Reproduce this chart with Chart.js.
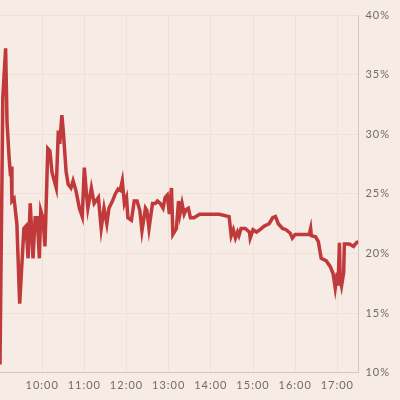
<!DOCTYPE html>
<html>
<head>
<meta charset="utf-8">
<script src="https://cdn.jsdelivr.net/npm/chart.js@4"></script>
<style>
  html, body { margin: 0; padding: 0; background: #f6ebe5; }
  #wrap { width: 400px; height: 400px; }
</style>
</head>
<body>
<div id="wrap"><canvas id="rateChart" width="400" height="400"></canvas></div>
<script>
// time of day for each reading
const times = [
    '9:00', '9:04', '9:08', '9:10', '9:13', '9:15', '9:16', '9:17', '9:20', '9:24',
    '9:28', '9:34', '9:37', '9:40', '9:43', '9:47', '9:50', '9:53', '9:56', '9:58',
    '10:01', '10:04', '10:08', '10:11', '10:14', '10:20', '10:23', '10:25', '10:28', '10:30',
    '10:34', '10:37', '10:41', '10:44', '10:48', '10:53', '10:57', '11:00', '11:03', '11:05',
    '11:10', '11:14', '11:20', '11:24', '11:28', '11:32', '11:35', '11:40', '11:44', '11:48',
    '11:51', '11:54', '11:57', '12:00', '12:02', '12:07', '12:11', '12:15', '12:19', '12:22',
    '12:27', '12:29', '12:32', '12:37', '12:41', '12:44', '12:48', '12:52', '12:55', '12:58',
    '13:01', '13:04', '13:06', '13:11', '13:14', '13:16', '13:19', '13:22', '13:25', '13:28',
    '13:31', '13:36', '13:44', '13:58', '14:12', '14:26', '14:29', '14:32', '14:35', '14:38',
    '14:40', '14:43', '14:49', '14:55', '14:56', '15:00', '15:05', '15:10', '15:16', '15:23',
    '15:28', '15:32', '15:36', '15:42', '15:47', '15:53', '15:56', '16:00', '16:13', '16:20',
    '16:22', '16:23', '16:29', '16:33', '16:37', '16:44', '16:50', '16:54', '16:57', '17:00',
    '17:01', '17:03', '17:04', '17:06', '17:09', '17:10', '17:17', '17:23', '17:27', '17:30'
];

// percentage values
const rates = [
    10.7, 33.1, 37.2, 31.0, 28.0, 26.5, 27.3, 24.4, 24.6, 22.5,
    15.8, 22.1, 22.3, 19.6, 24.2, 19.6, 23.0, 23.0, 19.6, 23.6,
    23.0, 20.6, 28.8, 28.6, 26.8, 25.5, 30.3, 29.2, 31.6, 30.3,
    26.9, 25.8, 25.5, 26.1, 25.3, 23.8, 23.1, 27.2, 25.0, 23.8,
    25.5, 24.2, 24.7, 22.1, 23.8, 22.5, 23.8, 24.4, 25.0, 25.4,
    25.3, 26.1, 24.2, 24.7, 23.0, 22.8, 24.4, 24.4, 23.6, 21.9,
    23.8, 23.6, 22.1, 24.2, 24.2, 24.4, 24.2, 23.8, 24.7, 24.9,
    23.3, 25.5, 21.6, 22.1, 24.4, 23.3, 24.2, 23.3, 23.7, 23.8,
    23.0, 23.0, 23.3, 23.3, 23.3, 23.1, 21.5, 22.0, 21.3, 21.8,
    21.5, 22.1, 22.1, 21.8, 21.3, 22.0, 21.8, 22.0, 22.3, 22.5,
    23.0, 23.1, 22.5, 22.1, 22.0, 21.7, 21.3, 21.6, 21.6, 21.6,
    22.1, 21.5, 21.4, 21.0, 19.6, 19.4, 18.9, 18.3, 17.1, 18.4,
    17.3, 20.9, 17.9, 17.3, 18.4, 20.8, 20.8, 20.6, 20.9, 21.0
];

// axis labels
const hourLabels = ['10:00', '11:00', '12:00', '13:00', '14:00', '15:00', '16:00', '17:00'];
const percentTicks = [10, 15, 20, 25, 30, 35, 40];

function toMinutes(t) {
    const parts = t.split(':');
    return parseInt(parts[0]) * 60 + parseInt(parts[1]);
}

const points = times.map(function (t, i) {
    return { x: toMinutes(t), y: rates[i] };
});
const hourTicks = hourLabels.map(toMinutes);

const spacing = {
    id: 'spacing',
    beforeDraw: function (chart) {
        chart.ctx.letterSpacing = '1px';
    }
};

const ctx = document.getElementById('rateChart').getContext('2d');
new Chart(ctx, {
    type: 'line',
    data: {
        datasets: [{
            data: points,
            borderColor: '#c0393b',
            borderWidth: 3.5,
            pointRadius: 0,
            tension: 0,
            fill: false
        }]
    },
    options: {
        responsive: false,
        animation: false,
        layout: { padding: { top: 15, left: 0, right: 6, bottom: 2 } },
        plugins: {
            legend: { display: false },
            tooltip: { enabled: false }
        },
        scales: {
            x: {
                type: 'linear',
                min: 540,
                max: 1050,
                afterBuildTicks: function (axis) {
                    axis.ticks = hourTicks.map(function (v) { return { value: v }; });
                },
                ticks: {
                    autoSkip: false,
                    maxRotation: 0,
                    padding: 6,
                    color: '#6f6b6a',
                    font: { family: 'Lato', size: 11 },
                    callback: function (value) {
                        return hourLabels[hourTicks.indexOf(value)];
                    }
                },
                grid: { color: '#efe1d8', drawTicks: false },
                border: { color: '#d3c8c2', width: 1 }
            },
            y: {
                position: 'right',
                min: 10,
                max: 40,
                afterBuildTicks: function (axis) {
                    axis.ticks = percentTicks.map(function (v) { return { value: v }; });
                },
                ticks: {
                    padding: 7,
                    color: '#6f6b6a',
                    font: { family: 'Lato', size: 11 },
                    callback: function (value) { return value + '%'; }
                },
                grid: { color: '#efe1d8', drawTicks: false },
                border: { color: '#d3c8c2', width: 1 }
            }
        }
    },
    plugins: [spacing]
});
</script>
</body>
</html>
